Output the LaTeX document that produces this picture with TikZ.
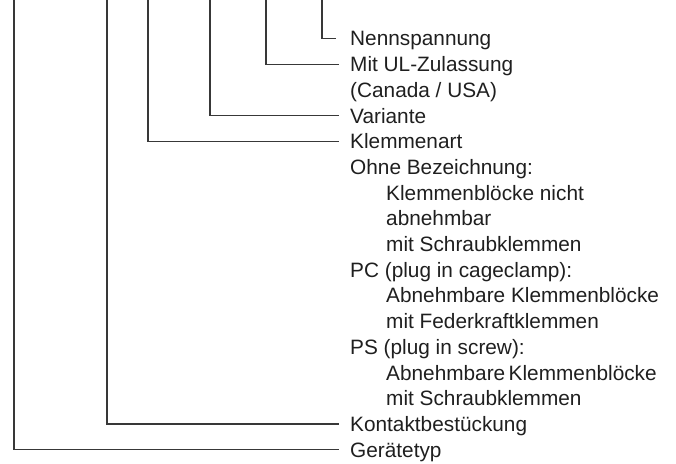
\documentclass[tikz,border=0pt]{standalone}
\usepackage{fontspec}
\setmainfont{Liberation Sans}
\begin{document}
\begin{tikzpicture}[x=1pt,y=1pt,
  lbl/.style={anchor=west, inner xsep=0pt, inner ysep=0pt, text height=14.9pt, text depth=0pt,
    font=\fontsize{20.8}{25}\selectfont, text=black!88},
  conn/.style={draw=black!78, line width=1.2pt, shorten >=11pt}]
\useasboundingbox (0,0) rectangle (676,-463);
\def\ly#1{-(38.5+25.7*#1)}
% labels
\node[lbl] (n0) at (350,{-(38.5+25.7*0)}) {Nennspannung};
\node[lbl] (n1) at (350,{-(38.5+25.7*1)}) {Mit UL-Zulassung};
\node[lbl] (n2) at (350,{-(38.5+25.7*2)}) {(Canada / USA)};
\node[lbl] (n3) at (350,{-(38.5+25.7*3)}) {Variante};
\node[lbl] (n4) at (350,{-(38.5+25.7*4)}) {Klemmenart};
\node[lbl] (n5) at (350,{-(38.5+25.7*5)}) {Ohne Bezeichnung:};
\node[lbl] (n6) at (386,{-(38.5+25.7*6)}) {Klemmenblöcke nicht};
\node[lbl] (n7) at (386,{-(38.5+25.7*7)}) {abnehmbar};
\node[lbl] (n8) at (386,{-(38.5+25.7*8)}) {mit Schraubklemmen};
\node[lbl] (n9) at (350,{-(38.5+25.7*9)}) {PC (plug in cageclamp):};
\node[lbl] (n10) at (386,{-(38.5+25.7*10)}) {Abnehmbare Klemmenblöcke};
\node[lbl] (n11) at (386,{-(38.5+25.7*11)}) {mit Federkraftklemmen};
\node[lbl] (n12) at (350,{-(38.5+25.7*12)}) {PS (plug in screw):};
\node[lbl] (n13) at (386,{-(38.5+25.7*13)}) {Abnehmbare\,Klemmenblöcke};
\node[lbl] (n14) at (386,{-(38.5+25.7*14)}) {mit Schraubklemmen};
\node[lbl] (n15) at (350,{-(38.5+25.7*15)}) {Kontaktbestückung};
\node[lbl] (n16) at (350,{-(38.5+25.7*16)}) {Gerätetyp};
% tops of the vertical lines
\coordinate (t0) at (322,0);
\coordinate (t1) at (266,0);
\coordinate (t3) at (210,0);
\coordinate (t4) at (148,0);
\coordinate (t15) at (107,0);
\coordinate (t16) at (14,0);
% connectors
\draw[conn, shorten >=14pt] (t0) |- (n0.west);
\draw[conn] (t1) |- (n1.west);
\draw[conn] (t3) |- (n3.west);
\draw[conn] (t4) |- (n4.west);
\draw[conn] (t15) |- (n15.west);
\draw[conn] (t16) |- (n16.west);
\end{tikzpicture}
\end{document}
